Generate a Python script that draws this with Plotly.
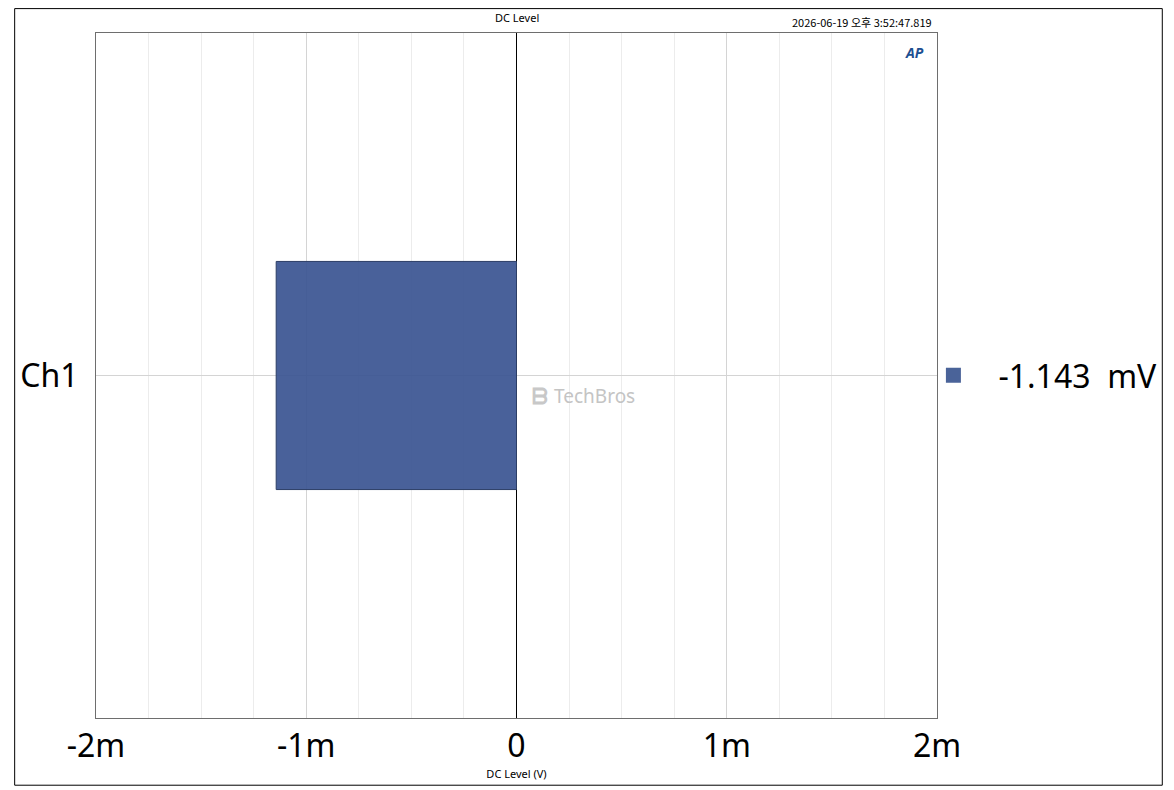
import plotly.graph_objects as go

# Data
channels = ["Ch1"]
dc_level_v = [-0.001143]
tick_vals = [-0.002, -0.001, 0.0, 0.001, 0.002]
tick_text = ["-2m", "-1m", "0", "1m", "2m"]

# the page puts the figure 8px in from the top-left corner
OFF = 8
W, H = 1174 - OFF, 790 - OFF
L, R, T, B = 91 - OFF, 230, 33 - OFF, 69
pw, ph = W - L - R, H - T - B


def px_x(x):
    # page x pixel -> paper coordinate
    return (x - 91) / pw


def px_y(y):
    # page y pixel -> paper coordinate
    return 1 - (y - 33) / ph


bar_color = "rgba(58,84,145,0.92)"
font_main = "Noto Sans, Open Sans, sans-serif"

legend_label = f"{dc_level_v[0] * 1000:.3f}\u00a0\u00a0mV"

fig = go.Figure()

fig.add_trace(go.Bar(
    y=channels,
    x=dc_level_v,
    orientation="h",
    width=0.333,
    marker=dict(color=bar_color, line=dict(color="#2c3e66", width=1)),
    showlegend=False,
))

# legend-only entry so the swatch can be sized like the reference
fig.add_trace(go.Scatter(
    x=[None], y=[None],
    mode="markers",
    name=legend_label,
    marker=dict(symbol="square", size=15, color="#4a6399"),
    showlegend=True,
))

fig.update_layout(
    width=W,
    height=H,
    margin=dict(l=L, r=R, t=T, b=B),
    paper_bgcolor="white",
    plot_bgcolor="white",
    font=dict(family=font_main, color="black"),
    showlegend=True,
    legend=dict(
        x=px_x(915), xanchor="left",
        y=0.5, yanchor="middle",
        font=dict(size=32, family=font_main),
        bgcolor="rgba(0,0,0,0)",
        itemwidth=80,
    ),
    xaxis=dict(
        range=[-0.002, 0.002],
        tickvals=tick_vals,
        ticktext=tick_text,
        tickfont=dict(size=32),
        ticks="",
        showgrid=True,
        gridcolor="#d4d4d4",
        gridwidth=1,
        minor=dict(dtick=0.00025, showgrid=True, gridcolor="#ececec", gridwidth=1),
        zeroline=True,
        zerolinecolor="black",
        zerolinewidth=1,
        showline=True,
        linecolor="#6e6e6e",
        linewidth=1,
        mirror=True,
        title=dict(text="DC Level (V)", font=dict(size=11), standoff=4),
    ),
    yaxis=dict(
        range=[-0.5, 0.5],
        tickfont=dict(size=32),
        ticks="",
        ticklabelstandoff=10,
        showgrid=True,
        gridcolor="#d4d4d4",
        showline=True,
        linecolor="#6e6e6e",
        linewidth=1,
        mirror=True,
    ),
    annotations=[
        dict(text="DC Level", xref="paper", yref="paper",
             x=0.5, y=px_y(OFF), xanchor="center", yanchor="top",
             showarrow=False, font=dict(size=11)),
        dict(text="2026-06-19 오후 3:52:47.819", xref="paper", yref="paper",
             x=px_x(941), y=px_y(22), xanchor="right", yanchor="middle",
             showarrow=False, font=dict(size=11, family="Noto Sans CJK KR, Noto Sans, sans-serif")),
        dict(text="<b><i>AP</i></b>", xref="paper", yref="paper",
             x=px_x(921), y=px_y(53), xanchor="center", yanchor="middle",
             showarrow=False, font=dict(size=14, color="#1d4f91")),
        dict(text="<b>ᗷ</b>", xref="paper", yref="paper",
             x=px_x(541), y=px_y(397), xanchor="center", yanchor="middle",
             showarrow=False, font=dict(size=22, color="#c8c8c8")),
        dict(text="TechBros", xref="paper", yref="paper",
             x=px_x(597), y=px_y(398), xanchor="center", yanchor="middle",
             showarrow=False, font=dict(size=19, color="#c4c4c4")),
    ],
    shapes=[
        # outer page border
        dict(type="rect", xref="paper", yref="paper",
             x0=-(L - 0.5) / pw, x1=1 + (R - 1.5) / pw,
             y0=-(B - 1.5) / ph, y1=1 + (T - 0.5) / ph,
             line=dict(color="black", width=1), fillcolor="rgba(0,0,0,0)"),
    ],
)

fig.write_html("out.html")
